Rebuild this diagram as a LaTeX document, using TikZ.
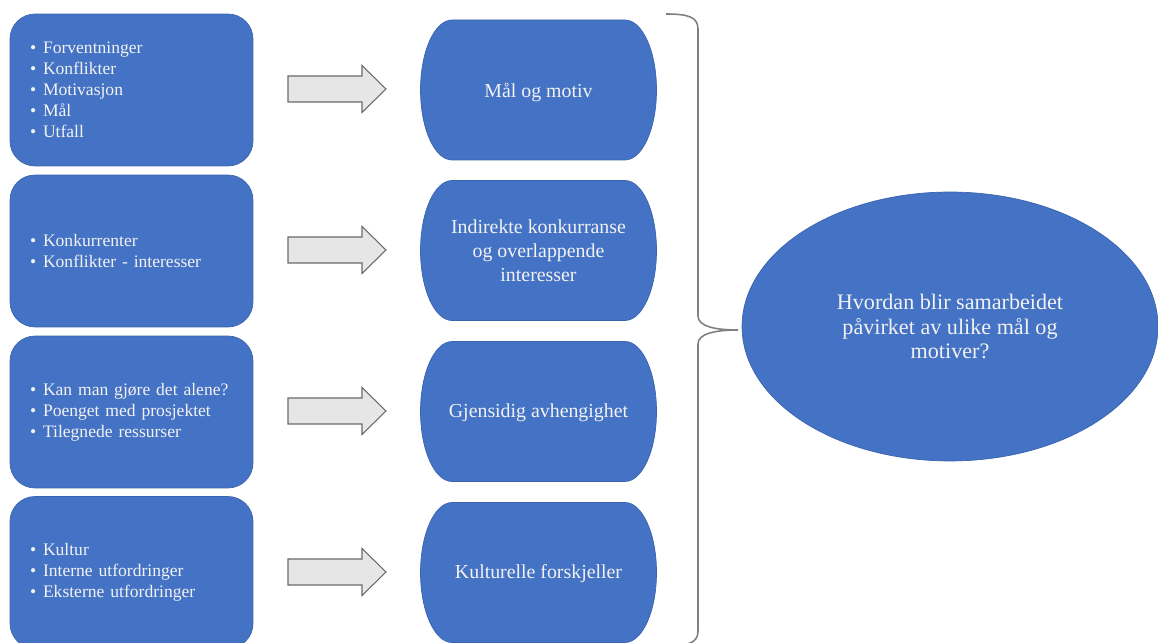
\documentclass[tikz,border=0pt]{standalone}
\usepackage{fontspec}
\setmainfont{Liberation Serif}
\usepackage{tikz}
\usetikzlibrary{shapes.geometric}

\definecolor{boxblue}{HTML}{4472C4}
\definecolor{boxedge}{HTML}{3B64AE}
\definecolor{boxtext}{HTML}{F2F2F2}
\definecolor{arrowfill}{HTML}{E7E6E6}
\definecolor{arrowedge}{HTML}{6A6A6A}
\definecolor{bracegray}{HTML}{808080}

\newcommand{\bul}{\makebox[7.4pt][l]{\textbullet}}
% rounded goal shape, centred at height #1
\newcommand{\goalblob}[1]{%
  \draw[goalshape] (452,#1+70) -- (625,#1+70)
    arc[start angle=90, end angle=-90, x radius=0.63cm, y radius=1.4cm]
    -- (452,#1-70)
    arc[start angle=-90, end angle=-270, x radius=0.63cm, y radius=1.4cm] -- cycle;}
% block arrow, centred at height #1
\newcommand{\fatarrow}[1]{%
  \draw[blockarrow] (288,#1+13) -- (362,#1+13) -- (362,#1+23.5) -- (386,#1)
    -- (362,#1-23.5) -- (362,#1-13) -- (288,#1-13) -- cycle;}

\begin{document}
\begin{tikzpicture}[x=0.02cm, y=0.02cm,
  leftbox/.style={fill=boxblue, draw=boxedge, line width=0.4pt, rounded corners=0.5cm,
    minimum width=4.86cm, minimum height=3.04cm, text width=4.06cm, inner xsep=0.4cm,
    align=left, text=boxtext, font=\fontsize{10}{12}\selectfont},
  goalshape/.style={fill=boxblue, draw=boxedge, line width=0.4pt},
  goaltext/.style={text=boxtext, align=center, font=\fontsize{11.3}{13.6}\selectfont},
  blockarrow/.style={fill=arrowfill, draw=arrowedge, line width=0.6pt},
]
\useasboundingbox (0,0) rectangle (1158,642);
% left boxes
\node[leftbox] (left1) at (131.5,552) {\bul Forventninger\\ \bul Konflikter\\ \bul Motivasjon\\ \bul Mål\\ \bul Utfall};
\node[leftbox] (left2) at (131.5,391) {\bul Konkurrenter\\ \bul Konflikter - interesser};
\node[leftbox] (left3) at (131.5,230) {\bul Kan man gjøre det alene?\\ \bul Poenget med prosjektet\\ \bul Tilegnede ressurser};
\node[leftbox] (left4) at (131.5,69.5) {\bul Kultur\\ \bul Interne utfordringer\\ \bul Eksterne utfordringer};
% block arrows
\fatarrow{553}
\fatarrow{392}
\fatarrow{231}
\fatarrow{70}
% goal shapes
\goalblob{552}
\goalblob{391.5}
\goalblob{230.5}
\goalblob{69.5}
\node[goaltext] (goal1) at (538.5,550) {Mål og motiv};
\node[goaltext] (goal2) at (538.5,391) {Indirekte konkurranse\\ og overlappende\\ interesser};
\node[goaltext] (goal3) at (538.5,229.5) {Gjensidig avhengighet};
\node[goaltext] (goal4) at (538.5,68.5) {Kulturelle forskjeller};
% brace
\draw[bracegray, line width=0.9pt] (666,628) .. controls (688,628) and (698,625) .. (698,613)
  -- (698,326) .. controls (698,316) and (714,312) .. (738,312)
  .. controls (714,312) and (698,308) .. (698,298)
  -- (698,11) .. controls (698,-1) and (688,-4) .. (666,-4);
% research question
\node[ellipse, fill=boxblue, draw=boxedge, line width=0.4pt, minimum width=8.32cm,
  minimum height=5.38cm, inner sep=0pt, text=boxtext, align=center,
  font=\fontsize{12.6}{14.2}\selectfont] (question) at (950,315.5)
  {Hvordan blir samarbeidet\\ påvirket av ulike mål og\\ motiver?};
\end{tikzpicture}
\end{document}
